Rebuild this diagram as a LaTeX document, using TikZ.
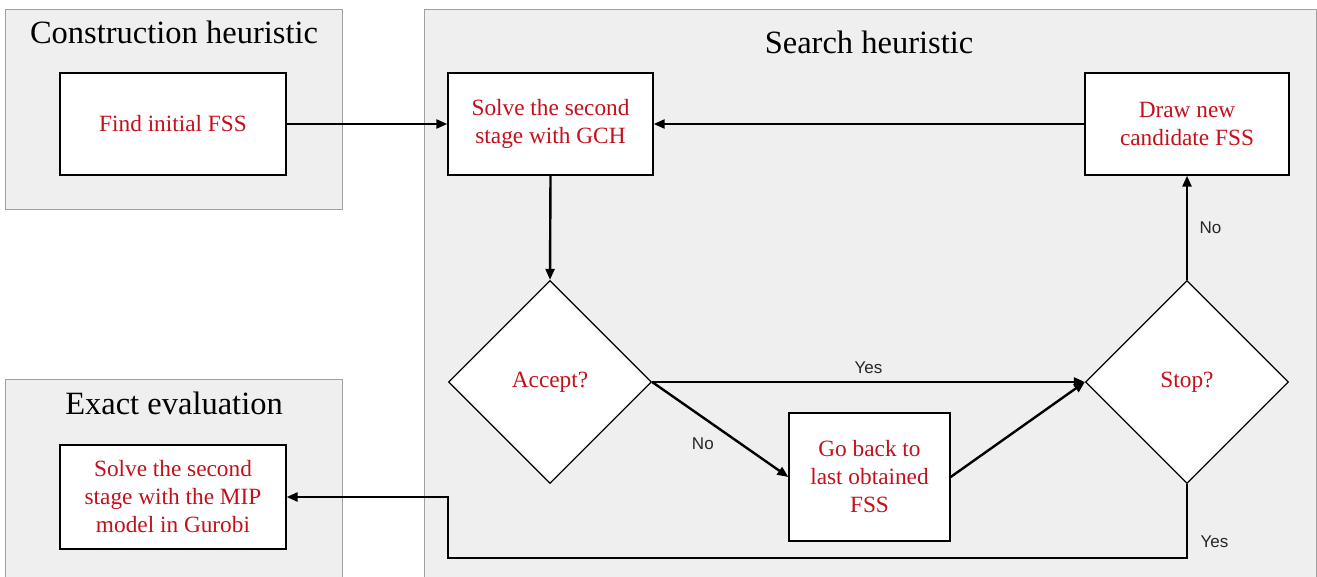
\documentclass[tikz,border=0pt]{standalone}
\usepackage{fontspec}
\setmainfont{Liberation Serif}
\newfontfamily\lblfont{Liberation Sans}
\usepackage{tikz}
\usetikzlibrary{arrows.meta,shapes.geometric}

\definecolor{fssred}{RGB}{196,16,28}
\definecolor{panelgray}{RGB}{239,239,239}
\definecolor{panelline}{RGB}{160,160,160}

\newcommand{\titlefont}{\fontsize{32.5}{38}\selectfont}
\newcommand{\stepfont}{\fontsize{23.3}{28}\selectfont}

\begin{document}
\begin{tikzpicture}
  [x = 1pt, y = -1pt,
   panel/.style = {draw = panelline, fill = panelgray, line width = 1pt},
   stepbox/.style = {draw = black, fill = white, line width = 1.3pt, rectangle,
                     align = center, inner sep = 2pt, text = fssred, font = \stepfont},
   choice/.style = {draw = black, fill = white, line width = 1.3pt, diamond, aspect = 1,
                    inner sep = 0pt, minimum width = 203pt, minimum height = 203pt,
                    text = fssred, font = \stepfont},
   flow/.style = {draw, line width = 2.4pt, -{Triangle[length = 11pt, width = 9pt]}},
   lbl/.style = {font = \lblfont\fontsize{17}{20}\selectfont, text = black!85}]
  \useasboundingbox (0,0) rectangle (1317,576);

  % the three panels
  \draw[panel] (5,9) rectangle (342,209);
  \draw[panel] (5,379) rectangle (342,590);
  \draw[panel] (424,9) rectangle (1316,590);
  \node[font = \titlefont] (constrtitle) at (174,32) {Construction heuristic};
  \node[font = \titlefont] (searchtitle) at (869,42) {Search heuristic};
  \node[font = \titlefont] (exacttitle) at (174,403) {Exact evaluation};

  % steps
  \node[stepbox, minimum width = 226pt, minimum height = 102pt] (initial) at (173,124) {Find initial FSS};
  \node[stepbox, minimum width = 205pt, minimum height = 102pt] (gch) at (550.5,124) {Solve the second\\stage with GCH};
  \node[stepbox, minimum width = 204pt, minimum height = 102pt] (candidate) at (1187,124) {Draw new\\candidate FSS};
  \node[stepbox, minimum width = 161pt, minimum height = 128pt] (goback) at (869.5,477) {Go back to\\last obtained\\FSS};
  \node[stepbox, minimum width = 226pt, minimum height = 104pt] (mip) at (173,497) {Solve the second\\stage with the MIP\\model in Gurobi};
  \node[choice] (accept) at (550,382) {Accept?};
  \node[choice] (stop) at (1187,382) {Stop?};

  % connectors
  \draw[flow] (initial.east) -- (gch.west);
  \draw[flow] (gch.south) -- (accept.north);
  \draw[flow] (candidate.west) -- (gch.east);
  \draw[flow] (accept.east) -- node[lbl, above, yshift = 4pt] (yesstep) {Yes} (stop.west);
  \draw[flow] (accept.east) -- node[lbl, below left, xshift = -2pt, yshift = -4pt] (noback) {No} (goback.west);
  \draw[flow] (goback.east) -- (stop.west);
  \draw[flow] (stop.north) -- node[lbl, right, xshift = 8pt] (nodraw) {No} (candidate.south);
  \coordinate (turn) at (448,558);
  \draw[flow] (stop.south) -- node[lbl, pos = 0.78, right, xshift = 9pt] (yesexact) {Yes} (stop.south |- turn) -- (turn) |- (mip.east);
\end{tikzpicture}
\end{document}
